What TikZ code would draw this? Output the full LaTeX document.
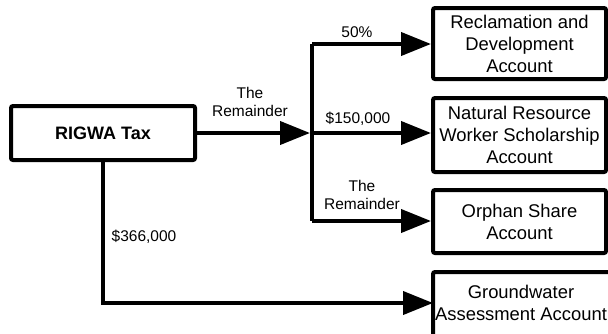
\documentclass[tikz,border=0pt]{standalone}
\usepackage{fontspec}
\setmainfont{Liberation Sans}
\usetikzlibrary{arrows.meta}
\begin{document}
\begin{tikzpicture}[x=1pt,y=-1pt,
  acct/.style={draw=black,line width=4pt,rounded corners=2pt,fill=white,inner sep=0pt,
    align=center,font=\fontsize{18.4}{22}\selectfont},
  lbl/.style={inner sep=0pt,align=center,font=\fontsize{15.5}{18}\selectfont},
  conn/.style={line width=4pt},
  arr/.style={line width=4pt,-{Triangle[length=30pt,width=23pt]}}]
\useasboundingbox (0,0) rectangle (608,333);
\clip (0,0) rectangle (608,333);
\node[acct,minimum width=184pt,minimum height=54pt,font=\bfseries\fontsize{18}{22}\selectfont] (rigwa) at (103,133) {RIGWA Tax};
\node[acct,minimum width=173pt,minimum height=71pt] (b1) at (519.5,43.5) {Reclamation and\\Development\\Account};
\node[acct,minimum width=173pt,minimum height=74pt] (b2) at (519.5,135) {Natural Resource\\Worker Scholarship\\Account};
\node[acct,minimum width=173pt,minimum height=63pt] (b3) at (519.5,221.5) {Orphan Share\\Account};
\node[acct,minimum width=182pt,minimum height=80pt] (b4) at (524,312) {};
\node[inner sep=0pt,align=center,font=\fontsize{18.4}{22}\selectfont] (b4t) at (521,303) {Groundwater\\Assessment Account};
\coordinate (j1) at (312,44);
\coordinate (j2) at (312,133);
\coordinate (j3) at (312,221);
\coordinate (g4) at (433,303);
\draw[conn] (j1) -- (j3);
\draw[arr,shorten >=2pt] (rigwa.east) -- (j2);
\draw[arr] (j1) -- (j1 -| b1.west);
\draw[arr] (j2) -- (j2 -| b2.west);
\draw[arr] (j3) -- (j3 -| b3.west);
\draw[arr] (rigwa.south) |- (g4);
\node[lbl] (l1) at (250,102) {The\\Remainder};
\node[lbl] (l2) at (357,32) {50\%};
\node[lbl] (l3) at (358,119) {\$150,000};
\node[lbl] (l4) at (362,195) {The\\Remainder};
\node[lbl] (l5) at (144,237) {\$366,000};
\end{tikzpicture}
\end{document}
